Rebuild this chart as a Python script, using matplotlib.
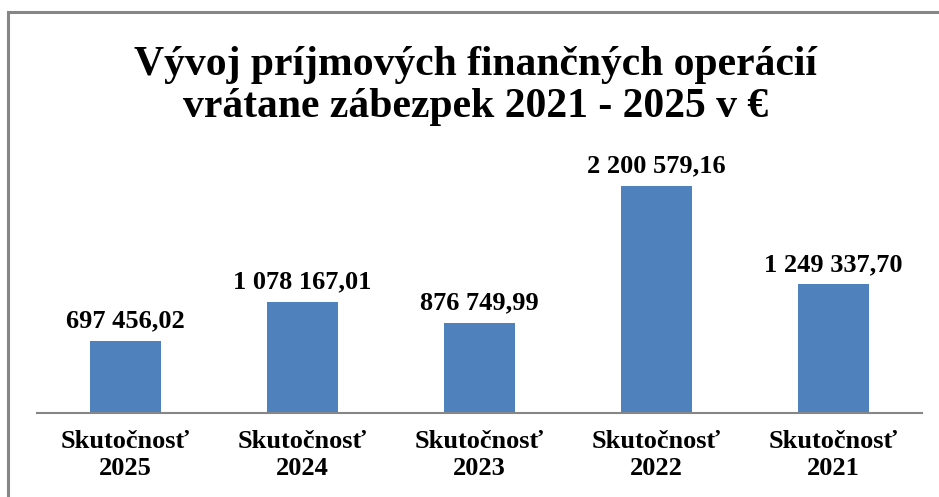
import numpy as np
import matplotlib.pyplot as plt
from matplotlib.patches import Rectangle

# data
categories = ["Skutočnosť\n2025", "Skutočnosť\n2024", "Skutočnosť\n2023",
              "Skutočnosť\n2022", "Skutočnosť\n2021"]
values = [697456.02, 1078167.01, 876749.99, 2200579.16, 1249337.70]
value_labels = ["697 456,02", "1 078 167,01", "876 749,99",
                "2 200 579,16", "1 249 337,70"]
title = "Vývoj príjmových finančných operácií\nvrátane zábezpek 2021 - 2025 v €"

plt.rcParams['font.family'] = ['Liberation Serif', 'DejaVu Serif']

fig = plt.figure(figsize=(9.39, 4.97), dpi=100)

# outer chart border (cropped on the right and bottom)
fig.patches.append(Rectangle((8 / 939, -0.1), 1.2, (497 - 12) / 497 + 0.1,
                             transform=fig.transFigure, fill=False,
                             edgecolor='#868686', linewidth=2.2))

ax = fig.add_axes([37 / 939, (497 - 413) / 497, 885 / 939, 263 / 497])
x = np.arange(len(values))
ax.bar(x, values, width=0.4, color='#4F81BD')
ax.set_xlim(-0.5, len(values) - 0.5)
ax.set_ylim(0, 2.55e6)

for xi, v, lab in zip(x, values, value_labels):
    ax.annotate(lab, (xi, v), xytext=(0, 6), textcoords='offset points',
                ha='center', va='bottom', fontsize=19, fontweight='bold')

ax.set_xticks(x)
ax.set_xticklabels(categories, fontsize=19, fontweight='bold', linespacing=1.2)
ax.tick_params(axis='x', length=0, pad=12.5)
ax.set_yticks([])
for s in ['top', 'right', 'left']:
    ax.spines[s].set_visible(False)
ax.spines['bottom'].set_color('#868686')
ax.spines['bottom'].set_linewidth(1.5)

fig.text(476 / 939, 1 - 86 / 497, title, ha='center', va='center', fontsize=30,
         fontweight='bold', linespacing=1.13)

fig.savefig('out.png', dpi=100)
